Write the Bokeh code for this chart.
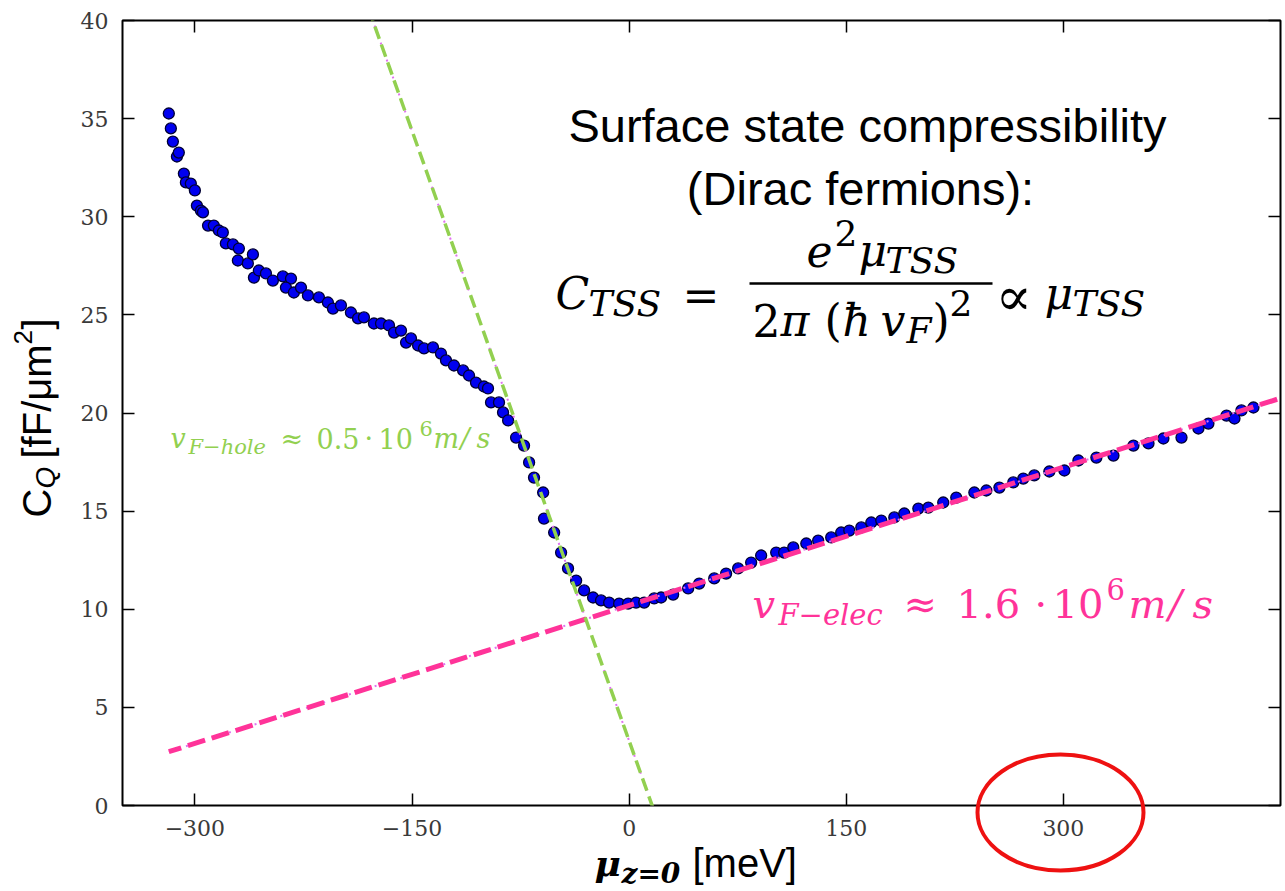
from bokeh.plotting import figure
from bokeh.models import Range1d, LinearAxis, Label, FixedTicker, CustomJSTickFormatter
from bokeh.embed import file_html
from bokeh.resources import INLINE
from bokeh.core.properties import value

# ---------------- data ----------------
mu_meV = [-318.0, -316.6, -315.2, -312.4, -311.1, -307.6, -306.2, -302.8, -300.0, -298.6,
          -295.8, -294.4, -290.9, -286.9, -283.4, -280.7, -278.6, -273.7, -269.6, -270.3,
          -263.4, -259.9, -259.2, -255.8, -250.9, -246.1, -239.2, -233.6, -237.1, -231.6,
          -226.7, -221.9, -214.3, -208.1, -204.6, -199.1, -192.2, -187.3, -183.2, -176.3,
          -171.4, -165.9, -162.4, -157.6, -154.1, -150.7, -145.8, -141.7, -135.5, -130.0,
          -126.5, -121.0, -114.7, -110.6, -105.8, -100.3, -97.5, -95.4, -89.9, -87.1,
          -83.6, -78.1, -72.6, -69.1, -65.7, -59.4, -58.8, -51.8, -47.0, -42.2,
          -36.6, -31.1, -24.9, -19.4, -13.8, -6.9, -0.7, 4.8, 10.4, 17.3,
          22.1, 30.4, 40.8, 48.4, 58.8, 67.0, 75.3, 84.3, 91.2, 101.6,
          107.1, 113.4, 122.4, 130.6, 139.6, 146.5, 152.1, 160.4, 167.3, 174.2,
          183.2, 190.1, 199.8, 206.7, 217.0, 226.0, 238.5, 246.8, 255.8, 265.4,
          272.3, 279.9, 290.3, 300.7, 310.4, 322.8, 334.6, 348.4, 358.8, 369.1,
          381.6, 393.3, 400.2, 412.7, 418.2, 423.0, 431.3]
cq_fF_um2 = [35.26, 34.50, 33.83, 33.07, 33.27, 32.20, 31.75, 31.69, 31.34, 30.57,
             30.31, 30.22, 29.55, 29.55, 29.30, 29.20, 28.64, 28.59, 28.38, 27.77,
             27.62, 28.08, 26.90, 27.26, 27.11, 26.75, 26.96, 26.85, 26.39, 26.14,
             26.39, 25.99, 25.89, 25.63, 25.32, 25.48, 25.12, 24.82, 24.87, 24.56,
             24.56, 24.46, 24.10, 24.20, 23.59, 23.80, 23.44, 23.29, 23.34, 23.03,
             22.68, 22.42, 22.17, 21.91, 21.55, 21.35, 21.25, 20.54, 20.54, 20.03,
             19.62, 18.75, 18.34, 17.48, 16.71, 15.95, 14.62, 13.91, 12.89, 12.08,
             11.46, 10.96, 10.60, 10.45, 10.34, 10.29, 10.29, 10.34, 10.34, 10.55,
             10.60, 10.75, 11.06, 11.31, 11.57, 11.82, 12.08, 12.38, 12.74, 12.89,
             12.89, 13.15, 13.35, 13.50, 13.66, 13.91, 14.01, 14.17, 14.42, 14.52,
             14.68, 14.88, 15.13, 15.18, 15.44, 15.69, 15.95, 16.05, 16.20, 16.46,
             16.66, 16.82, 17.02, 17.07, 17.58, 17.73, 17.83, 18.34, 18.45, 18.70,
             18.75, 19.21, 19.46, 19.87, 19.72, 20.13, 20.28]

# linear fits drawn on the picture (end points)
fit_elec_mu = [-318.0, 460.0]
fit_elec_cq = [2.74, 20.99]
fit_hole_mu = [-180.0, 17.0]
fit_hole_cq = [40.6, -0.23]

x_ticks = [-300, -150, 0, 150, 300]
x_tick_labels = ["\u2212300", "\u2212150", "0", "150", "300"]
y_ticks = [0, 5, 10, 15, 20, 25, 30, 35, 40]

X_MIN, X_MAX, Y_MIN, Y_MAX = -350, 450, 0, 40

# ---------------- layout constants ----------------
FL, FT, FW, FH = 122, 20, 1158, 785


def X(px):
    return X_MIN + (px - FL) / FW * (X_MAX - X_MIN)


def Y(py):
    return Y_MAX - (py - FT) / FH * (Y_MAX - Y_MIN)


p = figure(frame_width=FW, frame_height=FH,
           x_range=Range1d(X_MIN, X_MAX), y_range=Range1d(Y_MIN, Y_MAX),
           output_backend="svg", toolbar_location=None,
           min_border_left=FL, min_border_top=FT, min_border_bottom=86, min_border_right=5)
p.grid.visible = False
p.outline_line_color = "black"
p.outline_line_width = 2
p.outline_line_alpha = 1
p.background_fill_color = "white"
p.border_fill_color = "white"

tick_font = "DejaVu Serif"
p.xaxis.ticker = FixedTicker(ticks=x_ticks)
p.xaxis.major_label_overrides = {t: s for t, s in zip(x_ticks, x_tick_labels)}
p.yaxis.ticker = FixedTicker(ticks=y_ticks)
for ax in (p.xaxis[0], p.yaxis[0]):
    ax.axis_line_color = None
    ax.major_tick_in = 12
    ax.major_tick_out = 0
    ax.major_tick_line_width = 1.5
    ax.major_tick_line_color = "black"
    ax.minor_tick_line_color = None
    ax.major_label_text_font = tick_font
    ax.major_label_text_font_size = "22px"
    ax.major_label_text_color = "#3a3a3a"
    ax.major_label_standoff = 14

blank = CustomJSTickFormatter(code="return ''")
top = LinearAxis(ticker=FixedTicker(ticks=x_ticks), formatter=blank)
right = LinearAxis(ticker=FixedTicker(ticks=y_ticks), formatter=blank)
for ax in (top, right):
    ax.axis_line_color = None
    ax.major_tick_in = 12
    ax.major_tick_out = 0
    ax.major_tick_line_width = 1.5
    ax.minor_tick_line_color = None
    ax.major_label_standoff = 0
    ax.major_label_text_font_size = "1px"
p.add_layout(top, "above")
p.add_layout(right, "right")

# ---------------- data ----------------
p.scatter(mu_meV, cq_fF_um2, size=11, fill_color="#0000f0", line_color="#000033", line_width=1.3)

# fits: magenta dotted underneath, coloured dashes on top
p.line(fit_elec_mu, fit_elec_cq, line_color="#e070f0", line_width=2, line_dash="2 7")
p.line(fit_hole_mu, fit_hole_cq, line_color="#e070f0", line_width=2, line_dash="2 7")
p.line(fit_elec_mu, fit_elec_cq, line_color="#ff3399", line_width=5, line_dash="18 7",
       line_dash_offset=-20)
p.line(fit_hole_mu, fit_hole_cq, line_color="#92d050", line_width=3.5, line_dash="13 6")


def txt(s, px, py, size, color="black", font="DejaVu Serif", style="normal", align="left"):
    """Label whose visual centre line sits near picture row py."""
    p.add_layout(Label(x=X(px), y=Y(py), text=s, text_font_size=f"{size}px",
                       text_font=font, text_font_style=style, text_color=color,
                       text_align=align, text_baseline="alphabetic"))


def outer(s, px, py, size, font, style="normal", angle=0):
    """Text outside the frame (axis titles), drawn as an unclipped overlay glyph."""
    p.text(x=[X(px)], y=[Y(py)], text=[s], text_font=value(font),
           text_font_size=f"{size}px", text_font_style=style, text_color="black",
           text_align="left", text_baseline="middle", angle=angle, angle_units="deg",
           level="overlay")


# ---------------- title block ----------------
SANS = "Liberation Sans"
txt("Surface state compressibility", 867, 125, 47, font=SANS, align="center")
txt("(Dirac fermions):", 860, 188, 47, font=SANS, align="center")

M, S = 44, 36
txt("C", 555, 293, M, style="italic")
txt("TSS", 588, 303, S, style="italic")
txt("=", 682, 295, M)
p.segment(x0=[X(749)], y0=[Y(283)], x1=[X(992)], y1=[Y(283)], line_color="black", line_width=2.5)
txt("e", 806, 250, M, style="italic")
txt("2", 834, 232, S)
txt("\u03bc", 858, 250, M, style="italic")
txt("TSS", 885, 260, S, style="italic")
txt("2", 752, 320, M)
txt("\u03c0", 780, 320, M, style="italic")
txt("(", 824, 320, M)
txt("\u0127", 842, 320, M, style="italic")
txt("v", 880, 320, M, style="italic")
txt("F", 906, 330, S, style="italic")
txt(")", 932, 320, M)
txt("2", 949, 302, S)
txt("\u221d", 995, 296, 54)
txt("\u03bc", 1044, 293, M, style="italic")
txt("TSS", 1072, 303, S, style="italic")

# ---------------- velocity annotations ----------------
G = "#92d050"
GS, GB = 27, 21
txt("v", 170, 438, GS, color=G, style="italic")
txt("F\u2212hole", 188, 446, GB, color=G, style="italic")
txt("\u2248", 280, 438, GS, color=G)
txt("0.5", 316, 438, GS, color=G)
txt("\u00b7", 364, 438, GS, color=G)
txt("10", 378, 438, GS, color=G)
txt("6", 419, 428, GB, color=G)
txt("m", 433, 438, GS, color=G, style="italic")
txt("/", 460, 438, GS, color=G, style="italic")
txt("s", 476, 438, GS, color=G, style="italic")

PK = "#ff3399"
PS, PB = 40, 29
txt("v", 752, 603, PS, color=PK, style="italic")
txt("F\u2212elec", 778, 614, PB, color=PK, style="italic")
txt("\u2248", 903, 603, PS, color=PK)
txt("1.6", 956, 603, PS, color=PK)
txt("\u00b7", 1034, 603, PS, color=PK)
txt("10", 1052, 603, PS, color=PK)
txt("6", 1106, 588, PB, color=PK)
txt("m", 1128, 603, PS, color=PK, style="italic")
txt("/", 1168, 603, PS, color=PK, style="italic")
txt("s", 1192, 603, PS, color=PK, style="italic")

# ---------------- axis titles ----------------
outer("C", 36, 517, 40, SANS, angle=90)
outer("Q", 45, 488, 28, SANS, style="italic", angle=90)
outer("[fF/\u03bcm", 36, 458, 40, SANS, angle=90)
outer("2", 22, 344, 26, SANS, angle=90)
outer("]", 36, 329, 40, SANS, angle=90)

outer("\u03bc", 594, 862, 36, "DejaVu Serif", style="bold italic")
outer("z=0", 621, 873, 28, "DejaVu Serif", style="bold italic")
outer("[meV]", 692, 862, 40, SANS)

# ---------------- red highlight ----------------
p.ellipse(x=[X(1060)], y=[Y(812)], width=166, height=116, width_units="screen",
          height_units="screen", fill_color=None, line_color="#ee1111", line_width=4,
          level="overlay")

open("out.html", "w").write(file_html(p, INLINE))
